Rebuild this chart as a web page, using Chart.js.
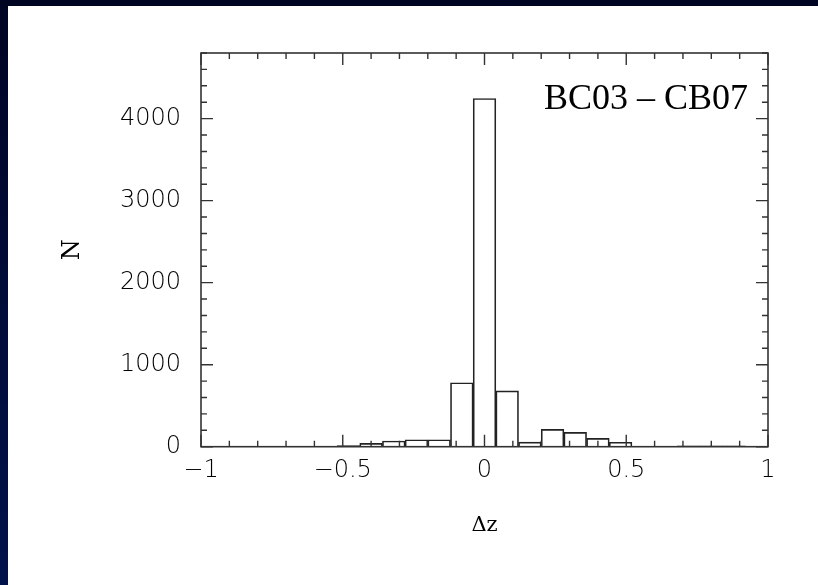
<!DOCTYPE html>
<html>
<head>
<meta charset="utf-8">
<script src="https://cdn.jsdelivr.net/npm/chart.js@4"></script>
<style>
  html, body { margin: 0; padding: 0; }
  body {
    width: 818px; height: 585px; overflow: hidden;
    background: linear-gradient(#000423, #00124c);
    position: relative;
  }
  #panel {
    position: absolute; left: 8px; top: 6px;
    width: 810px; height: 579px; background: #fff;
  }
</style>
</head>
<body>
<div id="panel"><canvas id="histo" width="810" height="579"></canvas></div>
<script>
// bin centres (width 0.08) and counts
const binCentres = [-0.48, -0.40, -0.32, -0.24, -0.16, -0.08, 0, 0.08, 0.16, 0.24, 0.32, 0.40, 0.48, 0.72, 0.80, 0.88];
const binCounts  = [15, 40, 70, 85, 85, 780, 4245, 680, 55, 212, 175, 102, 54, 12, 12, 12];

const xTickValues = [-1, -0.5, 0, 0.5, 1];
const xTickLabels = ['\u22121', '\u22120.5', '0', '0.5', '1'];
const yTickValues = [0, 1000, 2000, 3000, 4000];
const yTickLabels = ['0', '1000', '2000', '3000', '4000'];

const tickFont = { family: 'DejaVu Sans', size: 24, weight: 300 };
const inkColor = '#000';

// frame with inward ticks on all four sides
const framePlugin = {
    id: 'frame',
    afterDraw(chart) {
        const c = chart.ctx;
        const a = chart.chartArea;
        const xs = chart.scales.x, ys = chart.scales.y;
        c.save();
        c.strokeStyle = '#333';
        c.lineWidth = 1.6;
        c.strokeRect(a.left, a.top, a.right - a.left, a.bottom - a.top);
        c.lineWidth = 1.4;
        c.beginPath();
        for (let i = -10; i <= 10; i++) {
            const px = xs.getPixelForValue(i / 10);
            const len = i % 5 === 0 ? 12 : 6;
            c.moveTo(px, a.bottom); c.lineTo(px, a.bottom - len);
            c.moveTo(px, a.top); c.lineTo(px, a.top + len);
        }
        for (let v = 0; v <= 4800; v += 200) {
            const py = ys.getPixelForValue(v);
            const len = v % 1000 === 0 ? 12 : 6;
            c.moveTo(a.left, py); c.lineTo(a.left + len, py);
            c.moveTo(a.right, py); c.lineTo(a.right - len, py);
        }
        c.stroke();
        c.fillStyle = '#000';
        c.font = "36px 'Liberation Serif'";
        c.textAlign = 'right';
        c.textBaseline = 'alphabetic';
        c.fillText('BC03 \u2013 CB07', a.right - 20, 103);
        c.restore();
    }
};

new Chart(document.getElementById('histo'), {
    type: 'bar',
    data: {
        datasets: [{
            data: binCentres.map((x, i) => ({ x: x, y: binCounts[i] })),
            backgroundColor: 'rgba(0,0,0,0)',
            borderColor: '#222',
            borderWidth: 1,
            borderSkipped: 'start',
            barPercentage: 1,
            categoryPercentage: 1
        }]
    },
    options: {
        responsive: false,
        animation: false,
        layout: { padding: { left: 0, top: 47, right: 50, bottom: 0 } },
        plugins: {
            legend: { display: false },
            tooltip: { enabled: false }
        },
        scales: {
            x: {
                type: 'linear',
                min: -1,
                max: 1,
                offset: false,
                grid: { display: false, offset: false, drawTicks: false },
                border: { display: false },
                afterBuildTicks: s => { s.ticks = xTickValues.map(v => ({ value: v })); },
                afterFit: s => { s.height = 138.3; },
                ticks: {
                    font: tickFont,
                    color: inkColor,
                    padding: 10,
                    maxRotation: 0,
                    callback: (v, i) => xTickLabels[i]
                },
                title: {
                    display: true,
                    text: '\u0394z',
                    font: { family: 'DejaVu Serif', size: 21 },
                    color: '#000',
                    padding: { top: 0, bottom: 47 }
                }
            },
            y: {
                min: 0,
                max: 4800,
                grid: { display: false, drawTicks: false },
                border: { display: false },
                afterBuildTicks: s => { s.ticks = yTickValues.map(v => ({ value: v })); },
                afterFit: s => { s.width = 193; },
                ticks: {
                    font: tickFont,
                    color: inkColor,
                    padding: 20,
                    callback: (v, i) => yTickLabels[i]
                },
                title: {
                    display: true,
                    text: 'N',
                    font: { family: 'DejaVu Serif', size: 24 },
                    color: '#000',
                    padding: { top: 50, bottom: 0 }
                }
            }
        }
    },
    plugins: [framePlugin]
});
</script>
</body>
</html>
